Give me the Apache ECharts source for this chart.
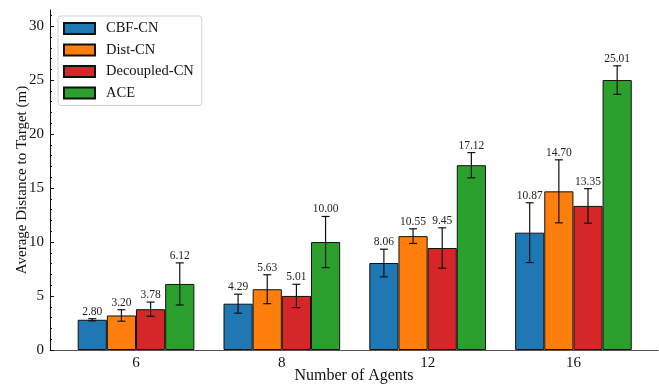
<!DOCTYPE html>
<html>
<head>
<meta charset="utf-8">
<script src="https://cdn.jsdelivr.net/npm/echarts@6/dist/echarts.min.js"></script>
<style>
  html, body { margin: 0; padding: 0; background: #fff; }
  #chart { width: 659px; height: 385px; }
</style>
</head>
<body>
<div id="chart"></div>
<script>
// Group labels (number of agents) and method names
const categories = ['6', '8', '12', '16'];
const methods = ['CBF-CN', 'Dist-CN', 'Decoupled-CN', 'ACE'];

// Mean distance to target per method
const cbfMean = [2.80, 4.29, 8.06, 10.87];
const distMean = [3.20, 5.63, 10.55, 14.70];
const decoupledMean = [3.78, 5.01, 9.45, 13.35];
const aceMean = [6.12, 10.00, 17.12, 25.01];

// Standard deviation per method
const cbfErr = [0.10, 0.88, 1.28, 2.77];
const distErr = [0.53, 1.34, 0.68, 2.92];
const decoupledErr = [0.66, 1.08, 1.87, 1.60];
const aceErr = [1.95, 2.37, 1.17, 1.32];

// Y axis ticks
const yMajorTicks = [0, 5, 10, 15, 20, 25, 30];
const yMinorTicks = [1, 2, 3, 4, 6, 7, 8, 9, 11, 12, 13, 14, 16, 17, 18, 19, 21, 22, 23, 24, 26, 27, 28, 29, 31];

const means = [cbfMean, distMean, decoupledMean, aceMean];
const errs = [cbfErr, distErr, decoupledErr, aceErr];
const colors = ['#1f77b4', '#ff7f0e', '#d62728', '#2ca02c'];
const FONT = '"Liberation Serif", "DejaVu Serif", serif';
const GROUP_FILL = 0.8;

const chart = echarts.init(document.getElementById('chart'), null, { renderer: 'canvas' });

const barSeries = methods.map((name, k) => ({
  name: name,
  type: 'bar',
  xAxisIndex: 0,
  yAxisIndex: 0,
  barGap: '0%',
  barCategoryGap: '20%',
  itemStyle: { color: colors[k], borderColor: '#111', borderWidth: 1 },
  data: means[k].map((v, i) => [i, v]),
  z: 2
}));

// Error bars with caps and value text above each bar
const errorSeries = methods.map((name, k) => ({
  type: 'custom',
  xAxisIndex: 0,
  yAxisIndex: 0,
  silent: true,
  z: 5,
  data: means[k].map((v, i) => [i, v, errs[k][i]]),
  renderItem: function (params, api) {
    const xi = api.value(0);
    const mean = api.value(1);
    const err = api.value(2);
    const unit = api.size([1, 0])[0];
    const barW = unit * GROUP_FILL / methods.length;
    const dx = (k - (methods.length - 1) / 2) * barW;
    const top = api.coord([xi, mean + err]);
    const bot = api.coord([xi, mean - err]);
    const x = top[0] + dx;
    const cap = 4;
    const st = { stroke: '#111', lineWidth: 1.2 };
    return {
      type: 'group',
      children: [
        { type: 'line', shape: { x1: x, y1: top[1], x2: x, y2: bot[1] }, style: st },
        { type: 'line', shape: { x1: x - cap, y1: top[1], x2: x + cap, y2: top[1] }, style: st },
        { type: 'line', shape: { x1: x - cap, y1: bot[1], x2: x + cap, y2: bot[1] }, style: st },
        {
          type: 'text',
          style: {
            x: x, y: top[1] - 1,
            text: mean.toFixed(2),
            fill: '#222',
            font: '11.5px ' + FONT,
            textAlign: 'center',
            textVerticalAlign: 'bottom'
          }
        }
      ]
    };
  }
}));

chart.setOption({
  animation: false,
  textStyle: { fontFamily: FONT },
  grid: { left: 50, right: 1, top: 10, bottom: 35, outerBoundsMode: 'none', containLabel: false },
  legend: {
    data: methods,
    orient: 'vertical',
    left: 58,
    top: 16,
    padding: [5, 8, 5, 5],
    itemWidth: 31,
    itemHeight: 11,
    itemGap: 6.5,
    icon: 'rect',
    borderColor: '#d0d0d0',
    borderWidth: 1,
    borderRadius: 3,
    backgroundColor: 'rgba(255,255,255,0.9)',
    textStyle: { fontFamily: FONT, fontSize: 14.5, color: '#111', padding: [0, 0, 0, 6] }
  },
  xAxis: {
    type: 'value',
    min: -0.59,
    max: 3.58,
    name: 'Number of Agents',
    nameLocation: 'middle',
    nameGap: 18,
    nameMoveOverlap: false,
    nameTextStyle: { fontFamily: FONT, fontSize: 16, color: '#111' },
    axisLine: { show: true, onZero: false, lineStyle: { color: '#555', width: 1.2 } },
    axisTick: { show: false },
    splitLine: { show: false },
    axisLabel: {
      customValues: [0, 1, 2, 3],
      formatter: v => categories[Math.round(v)],
      fontFamily: FONT, fontSize: 15, color: '#111', margin: 6
    }
  },
  yAxis: [
    {
      type: 'value',
      min: 0,
      max: 31.5,
      name: 'Average Distance to Target (m)',
      nameLocation: 'middle',
      nameGap: 20,
      nameMoveOverlap: false,
      nameTextStyle: { fontFamily: FONT, fontSize: 15, color: '#111' },
      axisLine: { show: true, onZero: false, lineStyle: { color: '#111', width: 1 } },
      axisTick: { show: true, inside: true, length: 4, customValues: yMajorTicks, lineStyle: { color: '#111' } },
      axisLabel: { customValues: yMajorTicks, fontFamily: FONT, fontSize: 15, color: '#111', margin: 6 },
      splitLine: { show: false }
    },
    {
      type: 'value',
      min: 0,
      max: 31.5,
      position: 'left',
      axisLine: { show: false, onZero: false },
      axisTick: { show: true, inside: true, length: 2, customValues: yMinorTicks, lineStyle: { color: '#111' } },
      axisLabel: { show: false },
      splitLine: { show: false }
    }
  ],
  series: barSeries.concat(errorSeries)
});
</script>
</body>
</html>
